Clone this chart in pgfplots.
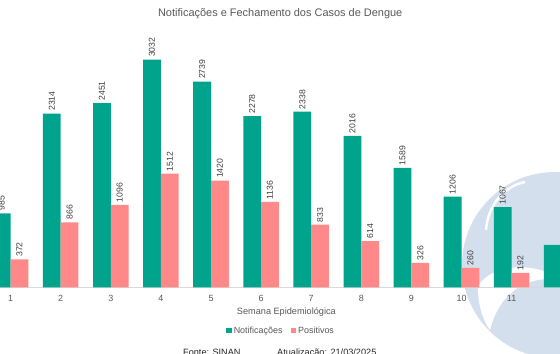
\documentclass[border=0pt]{standalone}
\usepackage{fontspec}
\setmainfont{Liberation Sans}
\usepackage{pgfplots}
\pgfplotsset{compat=1.18}
\definecolor{verde}{RGB}{0,163,140}
\definecolor{rosa}{RGB}{255,136,136}
\definecolor{txt}{RGB}{89,89,89}
\definecolor{lbl}{RGB}{64,64,64}
\definecolor{wm}{RGB}{212,223,238}
\definecolor{axl}{RGB}{217,217,217}
\begin{document}
\begin{tikzpicture}
\useasboundingbox (0,0) rectangle (560bp,354bp);
\fill[white] (0,0) rectangle (560bp,354bp);
% watermark
\fill[wm] (555bp,89bp) circle (93bp);
\fill[white] (478bp,67bp) .. controls (490bp,92bp) and (540bp,92bp) .. (560bp,74bp)
  .. controls (530bp,79bp) and (500bp,64bp) .. (490bp,24bp)
  .. controls (482bp,35bp) and (478bp,50bp) .. cycle;
\draw[white, line width=2.5bp] (486bp,124bp) .. controls (488bp,150bp) and (505bp,168bp) .. (525bp,172bp);
\begin{axis}[
  at={(0bp,66.7bp)}, anchor=south west, scale only axis,
  width=560bp, height=262.85bp,
  xmin=0.7884, xmax=11.966, ymin=0, ymax=3500,
  /pgf/number format/.cd, 1000 sep={}, assume math mode=true, /pgfplots/.cd,
  ybar, bar width=0.355,
  axis y line=none, axis x line*=bottom,
  x axis line style={draw=axl, line width=0.8bp, -},
  xtick={1,...,12}, major tick length=0,
  xticklabel style={font=\fontsize{9}{10}\selectfont, text=txt, yshift=-4.5bp},
  nodes near coords,
  every node near coord/.append style={font=\fontsize{8.7}{9}\selectfont, text=lbl, rotate=90, anchor=west, inner xsep=2.5bp, inner ysep=0pt},
  title={Notificações e Fechamento dos Casos de Dengue},
  title style={at={(axis description cs:0.5004,1)}, anchor=center, yshift=4.5bp, font=\fontsize{11}{12}\selectfont, text=txt},
  xlabel={Semana Epidemiológica},
  xlabel style={at={(axis description cs:0.5114,0)}, anchor=center, yshift=-24.4bp, font=\fontsize{9.2}{10}\selectfont, text=txt},
  legend style={at={(axis description cs:0.502,-0.165)}, anchor=center, draw=none, fill=none,
    legend columns=2, font=\fontsize{9}{10}\selectfont, text=txt,
    /tikz/every even column/.append style={column sep=6bp},
    /tikz/every odd column/.append style={column sep=0bp}},
  legend image code/.code={\fill[#1] (0bp,-2.7bp) rectangle (5.5bp,2.8bp);},
]
\addplot[fill=verde, draw=none, bar shift=-0.1775] coordinates {
 (1,985) (2,2314) (3,2451) (4,3032) (5,2739) (6,2278) (7,2338) (8,2016) (9,1589) (10,1206) (11,1067) (12,564)};
\addlegendentry{Notificações}
\addplot[fill=rosa, draw=none, bar shift=0.1775] coordinates {
 (1,372) (2,866) (3,1096) (4,1512) (5,1420) (6,1136) (7,833) (8,614) (9,326) (10,260) (11,192)};
\addlegendentry{Positivos}
\end{axis}
\node[anchor=base west, inner sep=0pt, font=\fontsize{9.2}{10}\selectfont, text=black!85] at (183bp,-1.5bp) {Fonte: SINAN};
\node[anchor=base west, inner sep=0pt, font=\fontsize{9.2}{10}\selectfont, text=black!85] at (277bp,-1.5bp) {Atualização: 21/03/2025};
\end{tikzpicture}
\end{document}
